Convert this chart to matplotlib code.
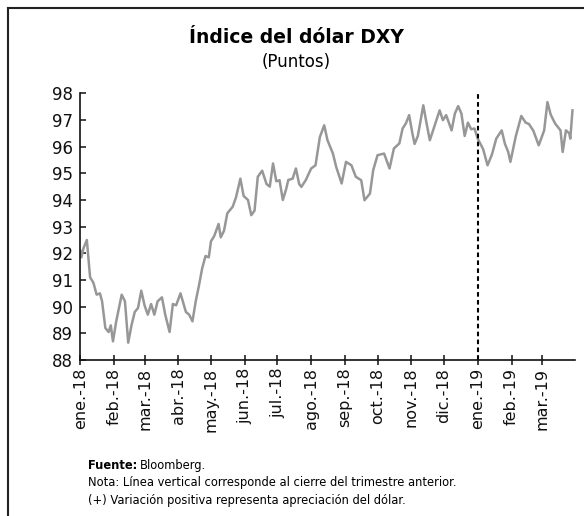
import matplotlib
matplotlib.use('Agg')
import matplotlib.pyplot as plt
from matplotlib.lines import Line2D
import pandas as pd

# DXY readings (points)
dates = ['2018-01-01', '2018-01-02', '2018-01-04', '2018-01-07', '2018-01-10', '2018-01-13',
         '2018-01-16', '2018-01-19', '2018-01-21', '2018-01-24', '2018-01-27', '2018-01-29',
         '2018-01-31', '2018-02-03', '2018-02-08', '2018-02-11', '2018-02-14', '2018-02-17',
         '2018-02-20', '2018-02-23', '2018-02-26', '2018-03-01', '2018-03-04', '2018-03-07',
         '2018-03-10', '2018-03-13', '2018-03-17', '2018-03-20', '2018-03-24', '2018-03-27',
         '2018-03-30', '2018-04-03', '2018-04-08', '2018-04-11', '2018-04-14', '2018-04-17',
         '2018-04-20', '2018-04-23', '2018-04-26', '2018-04-29', '2018-05-01', '2018-05-04',
         '2018-05-08', '2018-05-10', '2018-05-13', '2018-05-16', '2018-05-18', '2018-05-21',
         '2018-05-24', '2018-05-28', '2018-05-31', '2018-06-04', '2018-06-07', '2018-06-10',
         '2018-06-13', '2018-06-17', '2018-06-21', '2018-06-24', '2018-06-27', '2018-06-30',
         '2018-07-03', '2018-07-06', '2018-07-09', '2018-07-11', '2018-07-15', '2018-07-18',
         '2018-07-21', '2018-07-23', '2018-07-27', '2018-08-01', '2018-08-05', '2018-08-09',
         '2018-08-13', '2018-08-16', '2018-08-21', '2018-08-24', '2018-08-29', '2018-09-02',
         '2018-09-07', '2018-09-11', '2018-09-16', '2018-09-19', '2018-09-24', '2018-09-27',
         '2018-10-01', '2018-10-07', '2018-10-12', '2018-10-16', '2018-10-21', '2018-10-24',
         '2018-10-27', '2018-10-30', '2018-11-02', '2018-11-04', '2018-11-07', '2018-11-12',
         '2018-11-15', '2018-11-18', '2018-11-22', '2018-11-27', '2018-11-30', '2018-12-03',
         '2018-12-08', '2018-12-11', '2018-12-14', '2018-12-17', '2018-12-20', '2018-12-23',
         '2018-12-26', '2018-12-29', '2019-01-01', '2019-01-06', '2019-01-10', '2019-01-14',
         '2019-01-18', '2019-01-23', '2019-01-26', '2019-01-29', '2019-01-31', '2019-02-05',
         '2019-02-10', '2019-02-14', '2019-02-17', '2019-02-21', '2019-02-26', '2019-03-03',
         '2019-03-06', '2019-03-09', '2019-03-13', '2019-03-18', '2019-03-20', '2019-03-23',
         '2019-03-26', '2019-03-27', '2019-03-29']
dxy = [92.1, 91.85, 92.2, 92.5, 91.1, 90.9,
       90.45, 90.5, 90.2, 89.2, 89.05, 89.3,
       88.7, 89.45, 90.45, 90.2, 88.65, 89.3,
       89.8, 89.95, 90.6, 90.05, 89.7, 90.1,
       89.7, 90.2, 90.35, 89.7, 89.05, 90.1,
       90.05, 90.5, 89.8, 89.7, 89.45, 90.2,
       90.8, 91.45, 91.9, 91.85, 92.45, 92.65,
       93.1, 92.6, 92.85, 93.5, 93.6, 93.75,
       94.1, 94.8, 94.15, 94.0, 93.43, 93.6,
       94.87, 95.1, 94.6, 94.5, 95.37, 94.7,
       94.74, 94.0, 94.4, 94.75, 94.8, 95.18,
       94.6, 94.49, 94.74, 95.18, 95.3, 96.36,
       96.8, 96.24, 95.74, 95.24, 94.62, 95.43,
       95.3, 94.87, 94.74, 93.99, 94.24, 95.12,
       95.68, 95.74, 95.18, 95.93, 96.12, 96.68,
       96.87, 97.18, 96.49, 96.1, 96.4, 97.55,
       96.87, 96.24, 96.74, 97.36, 96.99, 97.18,
       96.61, 97.24, 97.52, 97.24, 96.4, 96.9,
       96.65, 96.68, 96.3, 95.9, 95.3, 95.7,
       96.3, 96.61, 96.1, 95.8, 95.43, 96.4,
       97.15, 96.9, 96.85, 96.6, 96.05, 96.61,
       97.67, 97.2, 96.87, 96.61, 95.8, 96.61,
       96.5, 96.3, 97.36]

month_labels = ['ene.-18', 'feb.-18', 'mar.-18', 'abr.-18', 'may.-18', 'jun.-18', 'jul.-18',
                'ago.-18', 'sep.-18', 'oct.-18', 'nov.-18', 'dic.-18', 'ene.-19', 'feb.-19',
                'mar.-19']
y_ticks = [88, 89, 90, 91, 92, 93, 94, 95, 96, 97, 98]
cutoff = '2019-01-01'

x = pd.to_datetime(dates)
month_pos = pd.date_range('2018-01-01', periods=len(month_labels), freq='MS')

plt.rcParams['font.family'] = 'DejaVu Sans'

fig = plt.figure(figsize=(5.84, 5.16), dpi=100)
ax = fig.add_axes([0.1375, 0.3023, 0.8465, 0.5169])

ax.plot(x, dxy, color='#979797', lw=1.8)
ax.axvline(pd.Timestamp(cutoff), color='black', ls=(0, (2.2, 1.6)), lw=1.5)

ax.set_xlim(pd.Timestamp('2018-01-01'), pd.Timestamp('2019-03-31'))
ax.set_ylim(88, 98)
ax.set_yticks(y_ticks)
ax.set_xticks(month_pos)
ax.set_xticklabels(month_labels, rotation=90)

for s in ['top', 'right']:
    ax.spines[s].set_visible(False)
for s in ['left', 'bottom']:
    ax.spines[s].set_linewidth(1.2)
    ax.spines[s].set_color('#111111')

ax.tick_params(axis='y', direction='in', length=4.5, width=1.1, pad=5, labelsize=12, colors='#111111')
ax.tick_params(axis='x', direction='inout', length=7, width=1.1, pad=2, labelsize=11.5, colors='#111111')

fig.text(0.507, 0.928, 'Índice del dólar DXY', ha='center', va='center', fontsize=13.5, fontweight='bold')
fig.text(0.507, 0.879, '(Puntos)', ha='center', va='center', fontsize=12)

fuente = fig.text(0.150, 0.098, 'Fuente:', fontsize=8.3, fontweight='bold', va='center')
fig.text(0.240, 0.098, 'Bloomberg.', fontsize=8.3, va='center')
fig.text(0.150, 0.064, 'Nota: Línea vertical corresponde al cierre del trimestre anterior.', fontsize=8.3, va='center')
fig.text(0.150, 0.031, '(+) Variación positiva representa apreciación del dólar.', fontsize=8.3, va='center')

# frame (top and left edges)
fig.add_artist(Line2D([0.014, 1.0], [0.984, 0.984], color='#222222', lw=1.5, transform=fig.transFigure))
fig.add_artist(Line2D([0.014, 0.014], [0.0, 0.984], color='#222222', lw=1.5, transform=fig.transFigure))

fig.savefig('out.png', dpi=100)
